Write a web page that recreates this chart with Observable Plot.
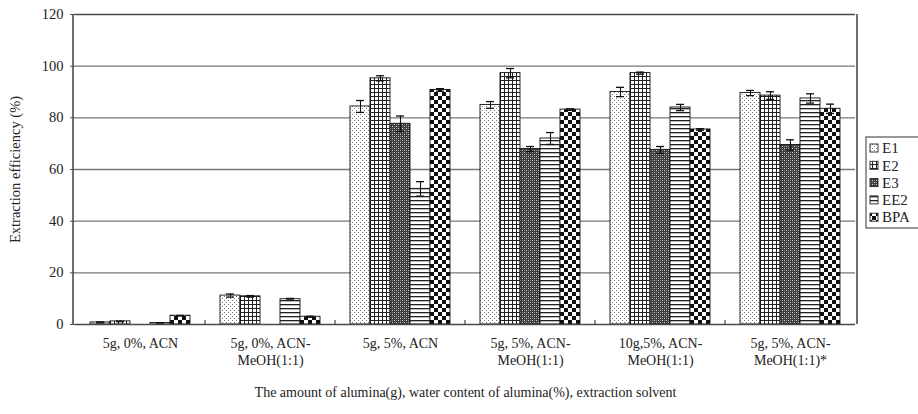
<!DOCTYPE html>
<html>
<head>
<meta charset="utf-8">
<script src="https://cdn.jsdelivr.net/npm/d3@7"></script>
<script src="https://cdn.jsdelivr.net/npm/@observablehq/plot@0.6"></script>
<style>
  body { margin: 0; background: #fff; }
  #chart { font-family: "Liberation Serif", "Times New Roman", serif; }
</style>
</head>
<body>
<div id="chart"></div>
<script>
// Extraction conditions: amount of alumina, its water content, extraction solvent
const conditions = [
  "5g, 0%, ACN",
  "5g, 0%, ACN-\nMeOH(1:1)",
  "5g, 5%, ACN",
  "5g, 5%, ACN-\nMeOH(1:1)",
  "10g,5%, ACN-\nMeOH(1:1)",
  "5g, 5%, ACN-\nMeOH(1:1)*"
];
const analytes = ["E1", "E2", "E3", "EE2", "BPA"];

// Mean extraction efficiency (%) per analyte, one value per condition
const e1Values  = [0.8, 11.2, 84.4, 85.0, 90.0, 89.6];
const e2Values  = [1.2, 10.9, 95.3, 97.3, 97.3, 88.6];
const e3Values  = [0.0, 0.0, 77.7, 67.9, 67.6, 69.5];
const ee2Values = [0.6, 9.8, 52.5, 72.0, 84.0, 87.5];
const bpaValues = [3.4, 3.0, 90.8, 83.2, 75.5, 83.5];

// Standard deviations (error bars)
const e1Err  = [0.2, 0.6, 2.3, 1.3, 1.8, 1.0];
const e2Err  = [0.1, 0.3, 1.0, 1.8, 0.4, 1.5];
const e3Err  = [0.0, 0.0, 3.0, 1.0, 1.3, 2.0];
const ee2Err = [0.1, 0.3, 2.8, 2.3, 1.2, 1.8];
const bpaErr = [0.1, 0.2, 0.5, 0.3, 0.3, 1.8];

const yTicks = [0, 20, 40, 60, 80, 100, 120];

const valueSeries = [e1Values, e2Values, e3Values, ee2Values, bpaValues];
const errSeries = [e1Err, e2Err, e3Err, ee2Err, bpaErr];

const table = [];
analytes.forEach((a, i) => {
  conditions.forEach((c, j) => {
    table.push({condition: c, analyte: a, value: valueSeries[i][j], err: errSeries[i][j]});
  });
});
const bars = table.filter(d => d.value > 0);
const withErr = bars.filter(d => d.err > 0);

const serif = '"Liberation Serif", "Times New Roman", serif';

const chart = Plot.plot({
  width: 918,
  height: 414,
  marginLeft: 73,
  marginRight: 61,
  marginTop: 14,
  marginBottom: 90,
  style: {fontFamily: serif, fontSize: "14px", color: "#222", background: "#fff"},
  fx: {domain: conditions, padding: 0, label: null},
  x: {domain: analytes, paddingInner: 0, paddingOuter: 0.72, axis: null},
  y: {domain: [0, 120], label: null},
  marks: [
    // horizontal gridlines
    Plot.ruleY(yTicks.filter(v => v > 0 && v < 120), {stroke: "#777", strokeWidth: 1.4}),
    // bars, one mark per analyte so each gets its own hatch pattern
    ...analytes.map(a =>
      Plot.barY(bars.filter(d => d.analyte === a), {
        fx: "condition", x: "analyte", y: "value",
        fill: `url(#hatch-${a})`, stroke: "#111", strokeWidth: 0.9
      })
    ),
    // error bars with caps
    Plot.ruleX(withErr, {
      fx: "condition", x: "analyte",
      y1: d => d.value - d.err, y2: d => d.value + d.err,
      stroke: "#111", strokeWidth: 1.1
    }),
    Plot.tickY(withErr, {
      fx: "condition", x: "analyte", y: d => d.value + d.err,
      insetLeft: 6, insetRight: 6, stroke: "#111", strokeWidth: 1.3
    }),
    Plot.tickY(withErr, {
      fx: "condition", x: "analyte", y: d => d.value - d.err,
      insetLeft: 6, insetRight: 6, stroke: "#111", strokeWidth: 1.3
    }),
    // top and bottom borders of the plotting area
    Plot.ruleY([0, 120], {stroke: "#4a4a4a", strokeWidth: 1.6}),
    Plot.axisY({
      ticks: yTicks, tickSize: 5, tickPadding: 7, stroke: "#4a4a4a",
      fontSize: 14.5, label: "Extraction efficiency (%)", labelArrow: "none",
      labelAnchor: "center", labelOffset: 66
    }),
    Plot.axisFx({
      anchor: "bottom", tickSize: 0, tickPadding: 12, fontSize: 14, lineHeight: 1.2,
      label: "The amount of alumina(g), water content of alumina(%), extraction solvent",
      labelArrow: "none", labelAnchor: "center", labelOffset: 72
    })
  ]
});

document.getElementById("chart").appendChild(chart);

// Hatch patterns used by the bars and legend swatches
const svg = d3.select(chart);
const defs = svg.insert("defs", ":first-child");

function pattern(id, w, h, draw) {
  const p = defs.append("pattern")
    .attr("id", id).attr("patternUnits", "userSpaceOnUse")
    .attr("width", w).attr("height", h);
  draw(p);
}
// E1: light stipple
pattern("hatch-E1", 4, 4, p => {
  p.append("rect").attr("width", 4).attr("height", 4).attr("fill", "#fff");
  p.append("rect").attr("x", 0).attr("y", 0).attr("width", 1).attr("height", 1).attr("fill", "#777");
  p.append("rect").attr("x", 2).attr("y", 2).attr("width", 1).attr("height", 1).attr("fill", "#777");
});
// E2: square grid
pattern("hatch-E2", 4, 4, p => {
  p.append("rect").attr("width", 4).attr("height", 4).attr("fill", "#fff");
  p.append("rect").attr("width", 4).attr("height", 1).attr("fill", "#222");
  p.append("rect").attr("width", 1).attr("height", 4).attr("fill", "#222");
});
// E3: dense dark texture with light dots
pattern("hatch-E3", 4, 4, p => {
  p.append("rect").attr("width", 4).attr("height", 4).attr("fill", "#3e3e3e");
  p.append("rect").attr("x", 0).attr("y", 0).attr("width", 1).attr("height", 1).attr("fill", "#d0d0d0");
  p.append("rect").attr("x", 2).attr("y", 2).attr("width", 1).attr("height", 1).attr("fill", "#d0d0d0");
  p.append("rect").attr("x", 2).attr("y", 0).attr("width", 1).attr("height", 1).attr("fill", "#808080");
  p.append("rect").attr("x", 0).attr("y", 2).attr("width", 1).attr("height", 1).attr("fill", "#808080");
});
// EE2: horizontal lines
pattern("hatch-EE2", 4, 4, p => {
  p.append("rect").attr("width", 4).attr("height", 4).attr("fill", "#fff");
  p.append("rect").attr("width", 4).attr("height", 1.3).attr("fill", "#222");
});
// BPA: large checkerboard
pattern("hatch-BPA", 8, 8, p => {
  p.append("rect").attr("width", 8).attr("height", 8).attr("fill", "#fff");
  p.append("rect").attr("x", 0).attr("y", 0).attr("width", 4).attr("height", 4).attr("fill", "#111");
  p.append("rect").attr("x", 4).attr("y", 4).attr("width", 4).attr("height", 4).attr("fill", "#111");
});

// Left/right borders and inward category ticks between condition groups
const fx = chart.scale("fx");
const y = chart.scale("y");
const [xLeft, xRight] = fx.range;
const y0 = y.apply(0), yTop = y.apply(120);
const frame = svg.append("g").attr("stroke", "#4a4a4a").attr("stroke-width", 1.6);
frame.append("line").attr("x1", xLeft).attr("x2", xLeft).attr("y1", yTop).attr("y2", y0);
frame.append("line").attr("x1", xRight).attr("x2", xRight).attr("y1", yTop).attr("y2", y0);
conditions.slice(1).forEach(c => {
  const x = fx.apply(c);
  frame.append("line").attr("x1", x).attr("x2", x).attr("y1", y0).attr("y2", y0 - 4).attr("stroke-width", 1.2);
});

// Legend on the right
const legend = svg.append("g")
  .attr("font-family", serif).attr("font-size", 15).attr("fill", "#222")
  .attr("text-anchor", "start");
legend.append("rect").attr("x", xRight + 9).attr("y", 137).attr("width", 70).attr("height", 91)
  .attr("fill", "#fff").attr("stroke", "#555").attr("stroke-width", 1.2);
analytes.forEach((a, i) => {
  const cy = 148 + i * 17.3;
  legend.append("rect").attr("x", xRight + 13).attr("y", cy - 4).attr("width", 8).attr("height", 8)
    .attr("fill", `url(#hatch-${a})`).attr("stroke", "#222").attr("stroke-width", 0.9);
  legend.append("text").attr("x", xRight + 25).attr("y", cy).attr("dy", "0.35em").text(a);
});
</script>
</body>
</html>
